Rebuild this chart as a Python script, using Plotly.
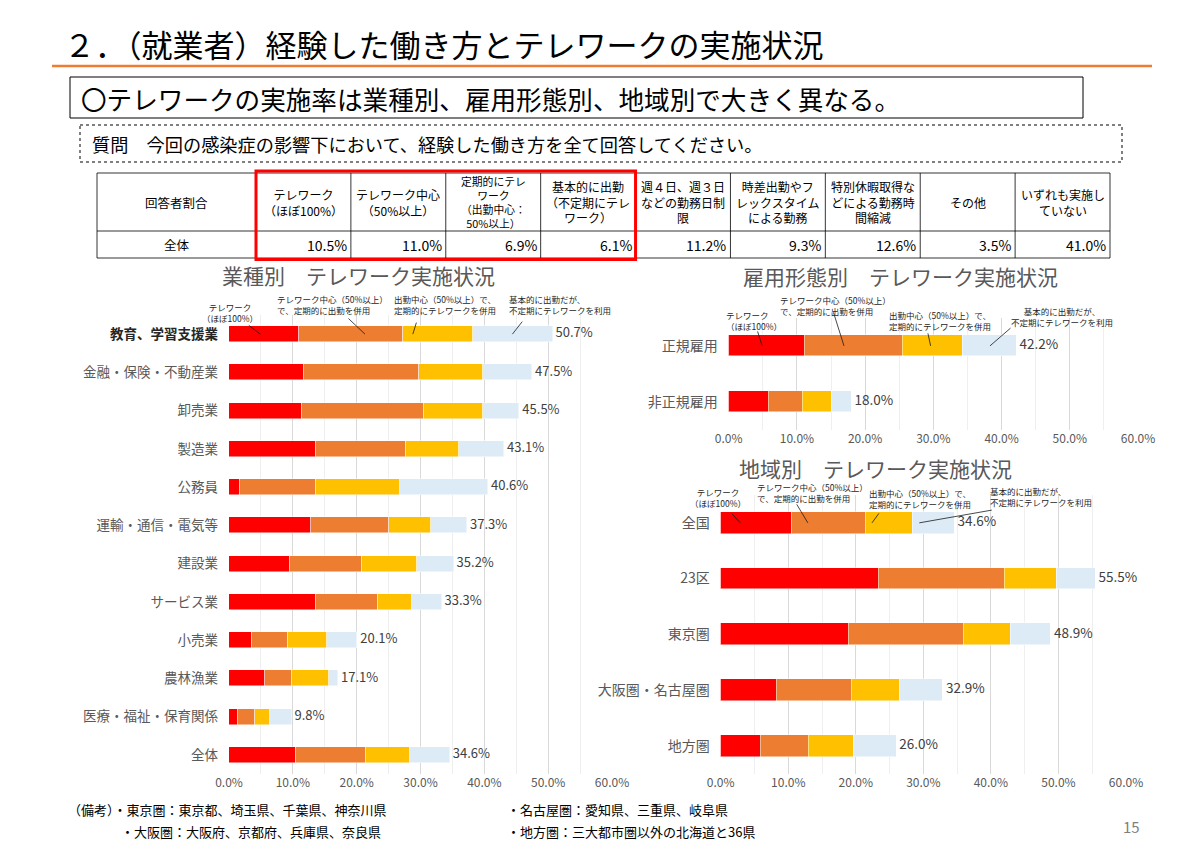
import plotly.graph_objects as go

FONT = "Noto Sans CJK JP"
W, H = 1200, 849

# ---- data ----
seg_colors = ["#FF0000", "#ED7D31", "#FFC000", "#DDEBF7"]
seg_labels = ["テレワーク<br>（ほぼ100%）",
              "テレワーク中心（50%以上）<br>で、定期的に出勤を併用",
              "出勤中心（50%以上）で、<br>定期的にテレワークを併用",
              "基本的に出勤だが、<br>不定期にテレワークを利用"]

ind_cats = ["教育、学習支援業", "金融・保険・不動産業", "卸売業", "製造業", "公務員",
            "運輸・通信・電気等", "建設業", "サービス業", "小売業", "農林漁業",
            "医療・福祉・保育関係", "全体"]
ind_full = [11.0, 11.7, 11.4, 13.7, 1.8, 12.9, 9.5, 13.7, 3.6, 5.6, 1.4, 10.5]
ind_main = [16.2, 18.1, 19.2, 14.1, 11.8, 12.2, 11.3, 9.6, 5.6, 4.3, 2.6, 11.0]
ind_part = [11.1, 10.0, 9.2, 8.2, 13.2, 6.5, 8.7, 5.3, 6.2, 5.8, 2.5, 6.9]
ind_occ = [12.4, 7.7, 5.7, 7.1, 13.8, 5.7, 5.7, 4.7, 4.7, 1.4, 3.3, 6.2]
ind_total = [50.7, 47.5, 45.5, 43.1, 40.6, 37.3, 35.2, 33.3, 20.1, 17.1, 9.8, 34.6]

emp_cats = ["正規雇用", "非正規雇用"]
emp_full = [11.1, 5.8]
emp_main = [14.4, 5.0]
emp_part = [8.8, 4.3]
emp_occ = [7.9, 2.9]
emp_total = [42.2, 18.0]

reg_cats = ["全国", "23区", "東京圏", "大阪圏・名古屋圏", "地方圏"]
reg_full = [10.5, 23.4, 19.0, 8.3, 5.9]
reg_main = [11.0, 18.7, 16.9, 11.1, 7.2]
reg_part = [6.9, 7.6, 7.1, 7.1, 6.6]
reg_occ = [6.2, 5.8, 5.9, 6.4, 6.3]
reg_total = [34.6, 55.5, 48.9, 32.9, 26.0]

tick_vals = [0, 10, 20, 30, 40, 50, 60]

tbl_first = ["回答者割合", "全体"]
tbl_head = ["テレワーク<br>（ほぼ100%）", "テレワーク中心<br>（50%以上）",
            "定期的にテレ<br>ワーク<br>（出勤中心：<br>50%以上）",
            "基本的に出勤<br>（不定期にテレ<br>ワーク）",
            "週４日、週３日<br>などの勤務日制<br>限",
            "時差出勤やフ<br>レックスタイム<br>による勤務",
            "特別休暇取得な<br>どによる勤務時<br>間縮減",
            "その他", "いずれも実施し<br>ていない"]
tbl_vals = ["10.5%", "11.0%", "6.9%", "6.1%", "11.2%", "9.3%", "12.6%", "3.5%", "41.0%"]

notes_left = ["（備考）・東京圏：東京都、埼玉県、千葉県、神奈川県",
              "・大阪圏：大阪府、京都府、兵庫県、奈良県"]
notes_right = ["・名古屋圏：愛知県、三重県、岐阜県",
               "・地方圏：三大都市圏以外の北海道と36県"]


def px(x):
    return x / W


def py(y):
    return 1 - y / H


fig = go.Figure()

charts = [
    ("x", "y", ind_cats, [ind_full, ind_main, ind_part, ind_occ], ind_total, 0.42, 13),
    ("x2", "y2", emp_cats, [emp_full, emp_main, emp_part, emp_occ], emp_total, 0.38, 13.5),
    ("x3", "y3", reg_cats, [reg_full, reg_main, reg_part, reg_occ], reg_total, 0.39, 13.5),
]

for xa, ya, cats, segs, totals, bw, fs in charts:
    for vals, col in zip(segs, seg_colors):
        fig.add_trace(go.Bar(
            x=vals, y=cats, orientation="h", xaxis=xa, yaxis=ya,
            marker=dict(color=col, line=dict(color="rgba(255,255,255,0.6)", width=0.8)),
            width=bw, showlegend=False, hoverinfo="x+y"
        ))
    fig.add_trace(go.Scatter(
        x=totals, y=cats, xaxis=xa, yaxis=ya, mode="text",
        text=[" %.1f%%" % t for t in totals], textposition="middle right",
        textfont=dict(size=fs, color="#404040", family=FONT),
        showlegend=False, hoverinfo="skip", cliponaxis=False
    ))

xax = dict(range=[0, 60], tickvals=tick_vals, ticktext=["%.1f%%" % v for v in tick_vals],
           showgrid=True, gridcolor="#D9D9D9", gridwidth=1, zeroline=False,
           showline=False, ticks="", fixedrange=True, automargin=False,
           minor=dict(dtick=5, showgrid=True, gridcolor="#EFEFEF"),
           tickfont=dict(size=12, color="#595959", family=FONT))

def yax(cats, top, bottom, fs, anchor, ticktext=None):
    d = dict(domain=[py(bottom), py(top)], type="category", anchor=anchor,
             categoryorder="array", categoryarray=cats,
             range=[len(cats) - 0.5, -0.5], showgrid=False, zeroline=False,
             ticks="", ticklabelstandoff=10, fixedrange=True, automargin=False,
             tickfont=dict(size=fs, color="#595959", family=FONT))
    if ticktext:
        d["tickvals"] = cats
        d["ticktext"] = ticktext
    return d

ind_ticktext = ["<b><span style='color:#262626'>%s</span></b>" % ind_cats[0]] + ind_cats[1:]

fig.update_layout(
    width=W, height=H, margin=dict(l=0, r=0, t=0, b=0, autoexpand=False),
    paper_bgcolor="white", plot_bgcolor="white", barmode="stack", bargap=0,
    font=dict(family=FONT, color="#000000"),
    xaxis=dict(xax, domain=[px(229), px(612)], anchor="y"),
    yaxis=yax(ind_cats, 315, 774, 13.5, "x", ind_ticktext),
    xaxis2=dict(xax, domain=[px(728.7), px(1138)], anchor="y2"),
    yaxis2=yax(emp_cats, 318, 429.5, 14, "x2"),
    xaxis3=dict(xax, domain=[px(720.7), px(1126)], anchor="y3"),
    yaxis3=yax(reg_cats, 495, 773.5, 14, "x3"),
)

shapes = []
ann = []


def text(x, y, s, size, color="#000000", xanchor="left", align="left", yanchor="middle"):
    ann.append(dict(x=px(x), y=py(y), xref="paper", yref="paper", text=s, showarrow=False,
                    xanchor=xanchor, yanchor=yanchor, align=align,
                    font=dict(size=size, color=color, family=FONT)))


# ---- header ----
text(62, 43, "２．（就業者）経験した働き方とテレワークの実施状況", 31)
shapes.append(dict(type="line", xref="paper", yref="paper", x0=px(52), x1=px(1152),
                   y0=py(66), y1=py(66), line=dict(color="#ED7D31", width=2.5)))
shapes.append(dict(type="rect", xref="paper", yref="paper", x0=px(70), x1=px(1083),
                   y0=py(77), y1=py(118), line=dict(color="#000000", width=1)))
text(79, 98, "〇テレワークの実施率は業種別、雇用形態別、地域別で大きく異なる。", 25.6)
shapes.append(dict(type="rect", xref="paper", yref="paper", x0=px(80), x1=px(1122),
                   y0=py(125), y1=py(162), line=dict(color="#000000", width=1, dash="dot")))
text(90, 144, "質問　今回の感染症の影響下において、経験した働き方を全て回答してください。", 18.2)

# ---- table ----
t_left, t_first, t_right = 97, 256, 1110
t_top, t_mid, t_bot = 173, 231, 258
col_w = (t_right - t_first) / len(tbl_head)
edges = [t_left] + [t_first + i * col_w for i in range(len(tbl_head) + 1)]
for i, e in enumerate(edges):
    shapes.append(dict(type="line", xref="paper", yref="paper", x0=px(e), x1=px(e),
                       y0=py(t_top), y1=py(t_bot), line=dict(color="#000000", width=0.8)))
for yy in (t_top, t_mid, t_bot):
    shapes.append(dict(type="line", xref="paper", yref="paper", x0=px(t_left), x1=px(t_right),
                       y0=py(yy), y1=py(yy), line=dict(color="#000000", width=0.8)))
text((edges[0] + edges[1]) / 2, (t_top + t_mid) / 2, tbl_first[0], 12.5, xanchor="center", align="center")
text((edges[0] + edges[1]) / 2, (t_mid + t_bot) / 2, tbl_first[1], 12.5, xanchor="center", align="center")
for i, (h, v) in enumerate(zip(tbl_head, tbl_vals)):
    x0, x1 = edges[i + 1], edges[i + 2]
    # four-line header needs a smaller size to fit the row
    hs = 12 if h.count("<br>") < 3 else 10.8
    ann.append(dict(x=px((x0 + x1) / 2), y=py((t_top + t_mid) / 2), xref="paper", yref="paper",
                    text=h, showarrow=False, xanchor="center", yanchor="middle", align="center",
                    font=dict(size=hs, family=FONT, color="#000000")))
    text(x1 - 2, (t_mid + t_bot) / 2, v, 14, xanchor="right", align="right")
shapes.append(dict(type="rect", xref="paper", yref="paper", x0=px(edges[1]), x1=px(edges[5]),
                   y0=py(171), y1=py(259.5), line=dict(color="#FF0000", width=3)))

# ---- chart titles ----
text(358, 275, "業種別　テレワーク実施状況", 21, "#595959", xanchor="center")
text(900, 276, "雇用形態別　テレワーク実施状況", 21, "#595959", xanchor="center")
text(875, 468, "地域別　テレワーク実施状況", 21, "#595959", xanchor="center")

# ---- callouts: (label x, label y, anchor, align, head value, dx, dy) ----
callouts = {
    ("x", "y", ind_cats[0]): [(230, 313, "center", "center", 4.9, -13, -10),
                              (275, 304, "left", "left", 21.3, -18, -17),
                              (392, 304, "left", "left", 28.8, 4, -13),
                              (507, 304, "left", "left", 44.4, 11, -14)],
    ("x2", "y2", emp_cats[0]): [(754, 320, "center", "left", 4.9, -5, -16),
                                (778, 305, "left", "left", 16.9, -11, -35),
                                (887, 320, "left", "left", 29.6, -3, -14),
                                (1062, 316, "center", "center", 38.3, 22, -19)],
    ("x3", "y3", reg_cats[0]): [(718, 498, "center", "center", 2.9, -10, -11),
                                (755, 492, "left", "left", 12.9, -12, -20),
                                (867, 499, "left", "left", 22.4, 8, -11),
                                (988, 496, "left", "left", 29.4, 74, -13)],
}
for (xa, ya, cat), items in callouts.items():
    for lab, (lx, ly, xanc, al, hx, dx, dy) in zip(seg_labels, items):
        text(lx, ly, lab, 8.5, "#262626", xanchor=xanc, align=al)
        ann.append(dict(x=hx, y=cat, xref=xa, yref=ya, text="", showarrow=True,
                        arrowhead=0, arrowwidth=0.8, arrowcolor="#1a1a1a",
                        ax=dx, ay=dy, standoff=0, startstandoff=0))

# ---- footer (two lines, boxes kept apart) ----
text(66, 821, notes_left[0], 13, yanchor="bottom")
text(119, 820, notes_left[1], 13, yanchor="top")
text(505, 821, notes_right[0], 13, yanchor="bottom")
text(505, 820, notes_right[1], 13, yanchor="top")
text(1131, 826, "15", 15, "#7F7F7F", xanchor="center")

fig.update_layout(shapes=shapes, annotations=ann)

# drop the default page margin so the figure sits at the window's top-left corner
fig.write_html("out.html", config={"displayModeBar": False},
               post_script="document.body.style.margin='0';")
